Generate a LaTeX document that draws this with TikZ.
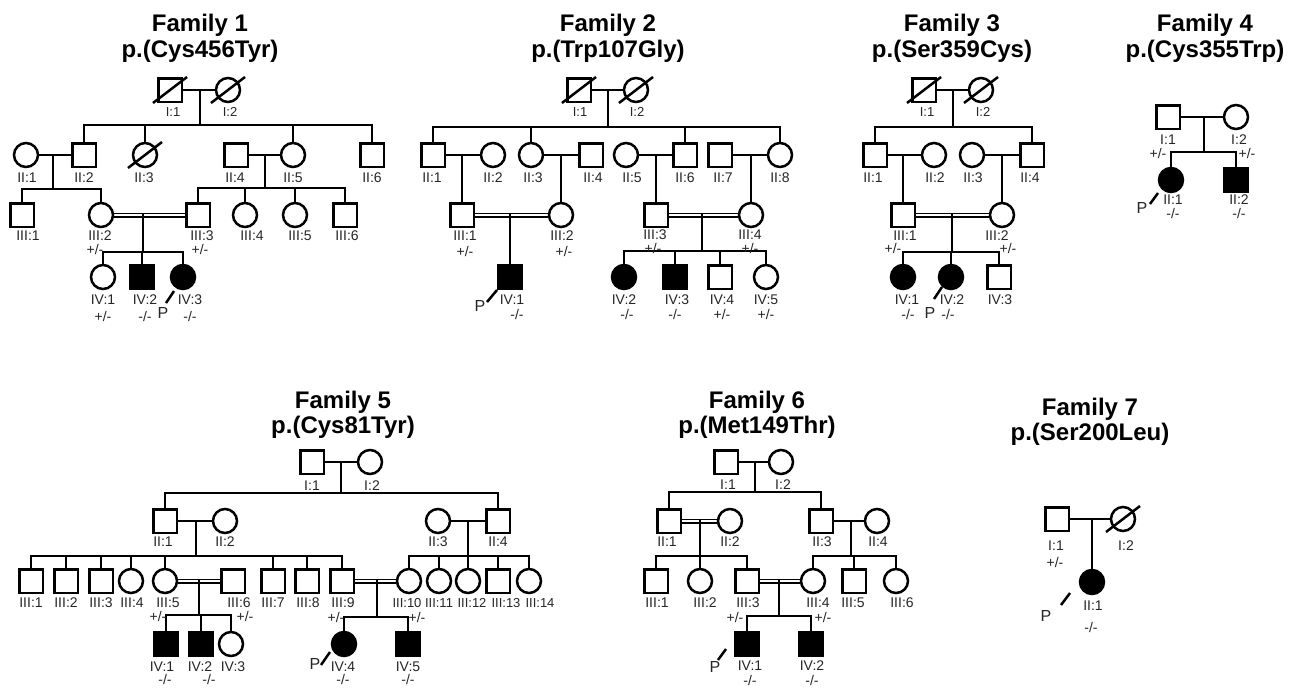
\documentclass[tikz,border=0pt]{standalone}
\usepackage{fontspec}
\setmainfont{Liberation Sans}
\usetikzlibrary{calc,backgrounds}
\tikzset{
 ln/.style={line width=2.5pt, line cap=rect},
 dbl/.style={line width=1.6pt, double=white, double distance=1.8pt},
 sqr/.style={draw, line width=2.5pt, rectangle, minimum size=23.5pt, inner sep=0pt, fill=white},
 cir/.style={draw, line width=2.5pt, circle, minimum size=24pt, inner sep=0pt, fill=white},
 lab/.style={font=\fontsize{14}{16}\selectfont, inner sep=0pt, text=black!85},
 labs/.style={font=\fontsize{13}{15}\selectfont, inner sep=0pt, text=black!85},
 ttl/.style={font=\fontsize{24}{28}\selectfont\bfseries, inner sep=0pt, anchor=base},
 pl/.style={font=\fontsize{16}{18}\selectfont, inner sep=0pt, text=black!85},
}
\newcommand\indM[3]{\node[sqr] (#1) at (#2,#3) {};}
\newcommand\indF[3]{\node[cir] (#1) at (#2,#3) {};}
\newcommand\indMA[3]{\node[sqr,fill=black] (#1) at (#2,#3) {};}
\newcommand\indFA[3]{\node[cir,fill=black] (#1) at (#2,#3) {};}
\newcommand\deceased[1]{\draw[ln,line cap=butt] ($(#1)+(-17,13)$) -- ($(#1)+(17,-13)$);}
\newcommand\lbl[4]{\node[lab] (#1) at (#2,#3) {#4};}
\newcommand\lbs[4]{\node[labs] (#1) at (#2,#3) {#4};}
\newcommand\pedkid[2]{\draw[ln] (#1.north) -- (#1.north |- #2);}
\begin{document}
\begin{tikzpicture}[x=1pt,y=-1pt]
\useasboundingbox (0,0) rectangle (1295,688);
% ================= Family 1
\node[ttl] (t1a) at (200,31) {Family 1};
\node[ttl] (t1b) at (200,57) {p.(Cys456Tyr)};
\indM{f1i1}{170}{90} \indF{f1i2}{228}{90}
\indF{f1ii1}{26}{155} \indM{f1ii2}{84}{155} \indF{f1ii3}{145}{155}
\indM{f1ii4}{236}{155} \indF{f1ii5}{293}{155} \indM{f1ii6}{372}{155}
\indM{f1iii1}{22}{215} \indF{f1iii2}{101}{215} \indM{f1iii3}{198}{215}
\indF{f1iii4}{245}{215} \indF{f1iii5}{295}{215} \indM{f1iii6}{345}{215}
\indF{f1iv1}{103}{277} \indMA{f1iv2}{142}{277} \indFA{f1iv3}{183}{277}
\coordinate (f1a) at (200,90); \coordinate (f1s) at (200,125);
\coordinate (f1b) at (53,155); \coordinate (f1t) at (53,189);
\coordinate (f1c) at (265,155); \coordinate (f1u) at (265,188);
\coordinate (f1d) at (143,215); \coordinate (f1v) at (143,252);
\lbs{f1i1L}{173}{112}{I:1} \lbs{f1i2L}{230}{112}{I:2}
\lbl{f1ii1L}{27}{178}{II:1} \lbl{f1ii2L}{84}{178}{II:2} \lbl{f1ii3L}{144}{178}{II:3}
\lbl{f1ii4L}{235}{178}{II:4} \lbl{f1ii5L}{293}{178}{II:5} \lbl{f1ii6L}{372}{178}{II:6}
\lbl{f1iii1L}{28}{236}{III:1} \lbl{f1iii2L}{100}{236}{III:2} \lbl{f1iii3L}{202}{236}{III:3}
\lbl{f1iii4L}{252}{236}{III:4} \lbl{f1iii5L}{300}{236}{III:5} \lbl{f1iii6L}{347}{236}{III:6}
\lbl{f1iii2G}{95}{249}{+/-} \lbl{f1iii3G}{200}{249}{+/-}
\lbl{f1iv1L}{103}{300}{IV:1} \lbl{f1iv2L}{145}{300}{IV:2} \lbl{f1iv3L}{190}{300}{IV:3}
\lbl{f1iv1G}{103}{316}{+/-} \lbl{f1iv2G}{145}{316}{-/-} \lbl{f1iv3G}{190}{316}{-/-}
\node[pl] (f1P) at (163,313) {P};
\coordinate (f1pa) at (166,303); \coordinate (f1pb) at (174,291);
% ================= Family 2
\node[ttl] (t2a) at (608,31) {Family 2};
\node[ttl] (t2b) at (608,57) {p.(Trp107Gly)};
\indM{f2i1}{579}{90} \indF{f2i2}{636}{90}
\indM{f2ii1}{433}{155} \indF{f2ii2}{493}{155} \indF{f2ii3}{531}{155} \indM{f2ii4}{591}{155}
\indF{f2ii5}{626}{155} \indM{f2ii6}{685}{155} \indM{f2ii7}{720}{155} \indF{f2ii8}{780}{155}
\indM{f2iii1}{462}{215} \indF{f2iii2}{561}{215} \indM{f2iii3}{656}{215} \indF{f2iii4}{751}{215}
\indMA{f2iv1}{510}{277} \indFA{f2iv2}{624}{277} \indMA{f2iv3}{675}{277}
\indM{f2iv4}{720}{277} \indF{f2iv5}{766}{277}
\coordinate (f2a) at (608,90); \coordinate (f2s) at (608,127);
\coordinate (f2b) at (702,215); \coordinate (f2t) at (702,251);
\lbs{f2i1L}{580}{112}{I:1} \lbs{f2i2L}{637}{112}{I:2}
\lbl{f2ii1L}{432}{178}{II:1} \lbl{f2ii2L}{493}{178}{II:2} \lbl{f2ii3L}{533}{178}{II:3}
\lbl{f2ii4L}{593}{178}{II:4} \lbl{f2ii5L}{632}{178}{II:5} \lbl{f2ii6L}{685}{178}{II:6}
\lbl{f2ii7L}{723}{178}{II:7} \lbl{f2ii8L}{780}{178}{II:8}
\lbl{f2iii1L}{465}{236}{III:1} \lbl{f2iii2L}{562}{236}{III:2}
\lbl{f2iii3L}{655}{235}{III:3} \lbl{f2iii4L}{750}{235}{III:4}
\lbl{f2iii1G}{465}{251}{+/-} \lbl{f2iii2G}{564}{251}{+/-}
\lbl{f2iii3G}{653}{248}{+/-} \lbl{f2iii4G}{750}{248}{+/-}
\lbl{f2iv1L}{512}{300}{IV:1} \lbl{f2iv2L}{624}{300}{IV:2} \lbl{f2iv3L}{677}{300}{IV:3}
\lbl{f2iv4L}{722}{300}{IV:4} \lbl{f2iv5L}{766}{300}{IV:5}
\lbl{f2iv1G}{517}{314}{-/-} \lbl{f2iv2G}{627}{314}{-/-} \lbl{f2iv3G}{675}{314}{-/-}
\lbl{f2iv4G}{722}{314}{+/-} \lbl{f2iv5G}{766}{314}{+/-}
\node[pl] (f2P) at (480,306) {P};
\coordinate (f2pa) at (487,302); \coordinate (f2pb) at (497,290);
% ================= Family 3
\node[ttl] (t3a) at (952,31) {Family 3};
\node[ttl] (t3b) at (952,57) {p.(Ser359Cys)};
\indM{f3i1}{924}{90} \indF{f3i2}{981}{90}
\indM{f3ii1}{875}{155} \indF{f3ii2}{934}{155} \indF{f3ii3}{972}{155} \indM{f3ii4}{1032}{155}
\indM{f3iii1}{903}{215} \indF{f3iii2}{1002}{215}
\indFA{f3iv1}{903}{277} \indFA{f3iv2}{951}{277} \indM{f3iv3}{999}{277}
\coordinate (f3a) at (953,90); \coordinate (f3s) at (953,127);
\coordinate (f3b) at (952,215); \coordinate (f3t) at (952,252);
\lbs{f3i1L}{927}{112}{I:1} \lbs{f3i2L}{983}{112}{I:2}
\lbl{f3ii1L}{873}{178}{II:1} \lbl{f3ii2L}{935}{178}{II:2} \lbl{f3ii3L}{973}{178}{II:3} \lbl{f3ii4L}{1030}{178}{II:4}
\lbl{f3iii1L}{905}{236}{III:1} \lbl{f3iii2L}{997}{236}{III:2}
\lbl{f3iii1G}{893}{248}{+/-} \lbl{f3iii2G}{1008}{248}{+/-}
\lbl{f3iv1L}{907}{300}{IV:1} \lbl{f3iv2L}{952}{300}{IV:2} \lbl{f3iv3L}{1000}{300}{IV:3}
\lbl{f3iv1G}{908}{314}{-/-} \lbl{f3iv2G}{948}{314}{-/-}
\node[pl] (f3P) at (930,313) {P};
\coordinate (f3pa) at (934,299); \coordinate (f3pb) at (942,287);
% ================= Family 4
\node[ttl] (t4a) at (1205,31) {Family 4};
\node[ttl] (t4b) at (1205,57) {p.(Cys355Trp)};
\indM{f4i1}{1168}{117} \indF{f4i2}{1236}{117}
\indFA{f4ii1}{1171}{180} \indMA{f4ii2}{1236}{180}
\coordinate (f4a) at (1204,117); \coordinate (f4s) at (1204,152);
\lbl{f4i1L}{1168}{140}{I:1} \lbl{f4i2L}{1239}{140}{I:2}
\lbl{f4i1G}{1158}{153}{+/-} \lbl{f4i2G}{1247}{153}{+/-}
\lbl{f4ii1L}{1173}{200}{II:1} \lbl{f4ii2L}{1239}{200}{II:2}
\lbl{f4ii1G}{1173}{213}{-/-} \lbl{f4ii2G}{1239}{213}{-/-}
\node[pl] (f4P) at (1142,208) {P};
\coordinate (f4pa) at (1150,204); \coordinate (f4pb) at (1158,193);
% ================= Family 5
\node[ttl] (t5a) at (343,408) {Family 5};
\node[ttl] (t5b) at (343,433) {p.(Cys81Tyr)};
\indM{f5i1}{312}{462} \indF{f5i2}{370}{462}
\indM{f5ii1}{165}{521} \indF{f5ii2}{225}{521} \indF{f5ii3}{438}{521} \indM{f5ii4}{498}{521}
\indM{f5iii1}{31}{581} \indM{f5iii2}{66}{581} \indM{f5iii3}{101}{581} \indF{f5iii4}{131}{581}
\indF{f5iii5}{165}{581} \indM{f5iii6}{233}{581} \indM{f5iii7}{273}{581} \indM{f5iii8}{307}{581}
\indM{f5iii9}{342}{581} \indF{f5iii10}{409}{581} \indF{f5iii11}{439}{581} \indF{f5iii12}{468}{581}
\indM{f5iii13}{498}{581} \indF{f5iii14}{529}{581}
\indMA{f5iv1}{166}{644} \indMA{f5iv2}{201}{644} \indF{f5iv3}{231}{644}
\indFA{f5iv4}{344}{644} \indMA{f5iv5}{408}{644}
\coordinate (f5a) at (341,462); \coordinate (f5s) at (341,493);
\coordinate (f5b) at (196,521); \coordinate (f5t) at (196,556);
\coordinate (f5c) at (468,521); \coordinate (f5u) at (468,556);
\coordinate (f5d) at (199,581); \coordinate (f5v) at (199,615);
\coordinate (f5e) at (377,581); \coordinate (f5w) at (377,617);
\lbl{f5i1L}{312}{486}{I:1} \lbl{f5i2L}{372}{486}{I:2}
\lbl{f5ii1L}{163}{542}{II:1} \lbl{f5ii2L}{225}{542}{II:2} \lbl{f5ii3L}{438}{542}{II:3} \lbl{f5ii4L}{498}{542}{II:4}
\lbl{f5iii1L}{31}{603}{III:1} \lbl{f5iii2L}{66}{603}{III:2} \lbl{f5iii3L}{101}{603}{III:3}
\lbl{f5iii4L}{132}{603}{III:4} \lbl{f5iii5L}{168}{603}{III:5} \lbl{f5iii6L}{239}{603}{III:6}
\lbl{f5iii7L}{273}{603}{III:7} \lbl{f5iii8L}{308}{603}{III:8} \lbl{f5iii9L}{343}{603}{III:9}
\lbs{f5iii10L}{407}{603}{III:10} \lbs{f5iii11L}{439}{603}{III:11} \lbs{f5iii12L}{472}{603}{III:12}
\lbs{f5iii13L}{506}{603}{III:13} \lbs{f5iii14L}{540}{603}{III:14}
\lbl{f5iii5G}{158}{616}{+/-} \lbl{f5iii6G}{245}{616}{+/-}
\lbl{f5iii9G}{336}{617}{+/-} \lbl{f5iii10G}{417}{617}{+/-}
\lbl{f5iv1L}{162}{667}{IV:1} \lbl{f5iv2L}{200}{667}{IV:2} \lbl{f5iv3L}{233}{667}{IV:3}
\lbl{f5iv4L}{343}{667}{IV:4} \lbl{f5iv5L}{408}{667}{IV:5}
\lbl{f5iv1G}{165}{679}{-/-} \lbl{f5iv2G}{209}{679}{-/-} \lbl{f5iv4G}{343}{679}{-/-} \lbl{f5iv5G}{408}{679}{-/-}
\node[pl] (f5P) at (315,664) {P};
\coordinate (f5pa) at (321,665); \coordinate (f5pb) at (330,652);
% ================= Family 6
\node[ttl] (t6a) at (757,408) {Family 6};
\node[ttl] (t6b) at (757,433) {p.(Met149Thr)};
\indM{f6i1}{726}{462} \indF{f6i2}{781}{462}
\indM{f6ii1}{669}{521} \indF{f6ii2}{730}{521} \indM{f6ii3}{821}{521} \indF{f6ii4}{877}{521}
\indM{f6iii1}{656}{581} \indF{f6iii2}{700}{581} \indM{f6iii3}{747}{581}
\indF{f6iii4}{813}{581} \indM{f6iii5}{854}{581} \indF{f6iii6}{896}{581}
\indMA{f6iv1}{747}{644} \indMA{f6iv2}{811}{644}
\coordinate (f6a) at (755,462); \coordinate (f6s) at (755,492);
\coordinate (f6b) at (700,521); \coordinate (f6t) at (700,556);
\coordinate (f6c) at (851,521); \coordinate (f6u) at (851,556);
\coordinate (f6d) at (779,581); \coordinate (f6v) at (779,616);
\lbl{f6i1L}{728}{485}{I:1} \lbl{f6i2L}{783}{485}{I:2}
\lbl{f6ii1L}{667}{542}{II:1} \lbl{f6ii2L}{730}{542}{II:2} \lbl{f6ii3L}{822}{542}{II:3} \lbl{f6ii4L}{878}{542}{II:4}
\lbl{f6iii1L}{657}{603}{III:1} \lbl{f6iii2L}{705}{603}{III:2} \lbl{f6iii3L}{748}{603}{III:3}
\lbl{f6iii4L}{818}{603}{III:4} \lbl{f6iii5L}{853}{603}{III:5} \lbl{f6iii6L}{902}{603}{III:6}
\lbl{f6iii3G}{735}{617}{+/-} \lbl{f6iii4G}{823}{617}{+/-}
\lbl{f6iv1L}{750}{666}{IV:1} \lbl{f6iv2L}{812}{666}{IV:2}
\lbl{f6iv1G}{750}{680}{-/-} \lbl{f6iv2G}{812}{680}{-/-}
\node[pl] (f6P) at (715,667) {P};
\coordinate (f6pa) at (718,660); \coordinate (f6pb) at (726,649);
% ================= Family 7
\node[ttl] (t7a) at (1090,415) {Family 7};
\node[ttl] (t7b) at (1090,440) {p.(Ser200Leu)};
\indM{f7i1}{1057}{519} \indF{f7i2}{1123}{519}
\indFA{f7ii1}{1092}{582}
\lbl{f7i1L}{1056}{546}{I:1} \lbl{f7i2L}{1126}{546}{I:2}
\lbl{f7i1G}{1055}{562}{+/-}
\lbl{f7ii1L}{1093}{606}{II:1} \lbl{f7ii1G}{1091}{627}{-/-}
\node[pl] (f7P) at (1046,616) {P};
\coordinate (f7pa) at (1061,605); \coordinate (f7pb) at (1070,593);
% ================= deceased slashes
\deceased{f1i1}\deceased{f1i2}\deceased{f1ii3}
\deceased{f2i1}\deceased{f2i2}
\deceased{f3i1}\deceased{f3i2}
\deceased{f7i2}
% proband marks
\foreach \f in {f1,f2,f3,f4,f5,f6,f7}{\draw[line width=2.5pt] (\f pa) -- (\f pb);}
% ================= connectors
\begin{pgfonlayer}{background}
\fill[white] (0,0) rectangle (1295,688);
% F1
\draw[ln] (f1i1) -- (f1i2);
\draw[ln] (f1a) -- (f1s);
\draw[ln] (f1ii2.north |- f1s) -- (f1ii6.north |- f1s);
\pedkid{f1ii2}{f1s}\pedkid{f1ii3}{f1s}\pedkid{f1ii5}{f1s}\pedkid{f1ii6}{f1s}
\draw[ln] (f1ii1) -- (f1ii2);
\draw[ln] (f1b) -- (f1t);
\draw[ln] (f1iii1.north |- f1t) -- (f1iii2.north |- f1t);
\pedkid{f1iii1}{f1t}\pedkid{f1iii2}{f1t}
\draw[ln] (f1ii4) -- (f1ii5);
\draw[ln] (f1c) -- (f1u);
\draw[ln] (f1iii3.north |- f1u) -- (f1iii6.north |- f1u);
\pedkid{f1iii3}{f1u}\pedkid{f1iii4}{f1u}\pedkid{f1iii5}{f1u}\pedkid{f1iii6}{f1u}
\draw[dbl] (f1iii2) -- (f1iii3);
\draw[ln] (f1d) -- (f1v);
\draw[ln] (f1iv1.north |- f1v) -- (f1iv3.north |- f1v);
\pedkid{f1iv1}{f1v}\pedkid{f1iv2}{f1v}\pedkid{f1iv3}{f1v}
% F2
\draw[ln] (f2i1) -- (f2i2);
\draw[ln] (f2a) -- (f2s);
\draw[ln] (f2ii1.north |- f2s) -- (f2ii8.north |- f2s);
\pedkid{f2ii1}{f2s}\pedkid{f2ii3}{f2s}\pedkid{f2ii6}{f2s}\pedkid{f2ii8}{f2s}
\draw[ln] (f2ii1) -- (f2ii2); \pedkid{f2iii1}{f2ii1}
\draw[ln] (f2ii3) -- (f2ii4); \pedkid{f2iii2}{f2ii3}
\draw[ln] (f2ii5) -- (f2ii6); \pedkid{f2iii3}{f2ii5}
\draw[ln] (f2ii7) -- (f2ii8); \pedkid{f2iii4}{f2ii7}
\draw[dbl] (f2iii1) -- (f2iii2); \pedkid{f2iv1}{f2iii1}
\draw[dbl] (f2iii3) -- (f2iii4);
\draw[ln] (f2b) -- (f2t);
\draw[ln] (f2iv2.north |- f2t) -- (f2iv5.north |- f2t);
\pedkid{f2iv2}{f2t}\pedkid{f2iv3}{f2t}\pedkid{f2iv4}{f2t}\pedkid{f2iv5}{f2t}
% F3
\draw[ln] (f3i1) -- (f3i2);
\draw[ln] (f3a) -- (f3s);
\draw[ln] (f3ii1.north |- f3s) -- (f3ii4.north |- f3s);
\pedkid{f3ii1}{f3s}\pedkid{f3ii4}{f3s}
\draw[ln] (f3ii1) -- (f3ii2); \pedkid{f3iii1}{f3ii1}
\draw[ln] (f3ii3) -- (f3ii4); \pedkid{f3iii2}{f3ii3}
\draw[dbl] (f3iii1) -- (f3iii2);
\draw[ln] (f3b) -- (f3t);
\draw[ln] (f3iv1.north |- f3t) -- (f3iv3.north |- f3t);
\pedkid{f3iv1}{f3t}\pedkid{f3iv2}{f3t}\pedkid{f3iv3}{f3t}
% F4
\draw[ln] (f4i1) -- (f4i2);
\draw[ln] (f4a) -- (f4s);
\draw[ln] (f4ii1.north |- f4s) -- (f4ii2.north |- f4s);
\pedkid{f4ii1}{f4s}\pedkid{f4ii2}{f4s}
% F5
\draw[ln] (f5i1) -- (f5i2);
\draw[ln] (f5a) -- (f5s);
\draw[ln] (f5ii1.north |- f5s) -- (f5ii4.north |- f5s);
\pedkid{f5ii1}{f5s}\pedkid{f5ii4}{f5s}
\draw[ln] (f5ii1) -- (f5ii2);
\draw[ln] (f5b) -- (f5t);
\draw[ln] (f5iii1.north |- f5t) -- (f5iii9.north |- f5t);
\foreach \k in {1,2,3,4,5,7,8,9}{\pedkid{f5iii\k}{f5t}}
\draw[ln] (f5ii3) -- (f5ii4);
\draw[ln] (f5c) -- (f5u);
\draw[ln] (f5iii10.north |- f5u) -- (f5iii14.north |- f5u);
\foreach \k in {10,11,12,13,14}{\pedkid{f5iii\k}{f5u}}
\draw[dbl] (f5iii5) -- (f5iii6);
\draw[ln] (f5d) -- (f5v);
\draw[ln] (f5iv1.north |- f5v) -- (f5iv3.north |- f5v);
\pedkid{f5iv1}{f5v}\pedkid{f5iv2}{f5v}\pedkid{f5iv3}{f5v}
\draw[dbl] (f5iii9) -- (f5iii10);
\draw[ln] (f5e) -- (f5w);
\draw[ln] (f5iv4.north |- f5w) -- (f5iv5.north |- f5w);
\pedkid{f5iv4}{f5w}\pedkid{f5iv5}{f5w}
% F6
\draw[ln] (f6i1) -- (f6i2);
\draw[ln] (f6a) -- (f6s);
\draw[ln] (f6ii1.north |- f6s) -- (f6ii3.north |- f6s);
\pedkid{f6ii1}{f6s}\pedkid{f6ii3}{f6s}
\draw[dbl] (f6ii1) -- (f6ii2);
\draw[ln] (f6b) -- (f6t);
\draw[ln] (f6iii1.north |- f6t) -- (f6iii3.north |- f6t);
\pedkid{f6iii1}{f6t}\pedkid{f6iii2}{f6t}\pedkid{f6iii3}{f6t}
\draw[ln] (f6ii3) -- (f6ii4);
\draw[ln] (f6c) -- (f6u);
\draw[ln] (f6iii4.north |- f6u) -- (f6iii6.north |- f6u);
\pedkid{f6iii4}{f6u}\pedkid{f6iii5}{f6u}\pedkid{f6iii6}{f6u}
\draw[dbl] (f6iii3) -- (f6iii4);
\draw[ln] (f6d) -- (f6v);
\draw[ln] (f6iv1.north |- f6v) -- (f6iv2.north |- f6v);
\pedkid{f6iv1}{f6v}\pedkid{f6iv2}{f6v}
% F7
\draw[ln] (f7i1) -- (f7i2);
\pedkid{f7ii1}{f7i1}
\end{pgfonlayer}
\end{tikzpicture}
\end{document}
